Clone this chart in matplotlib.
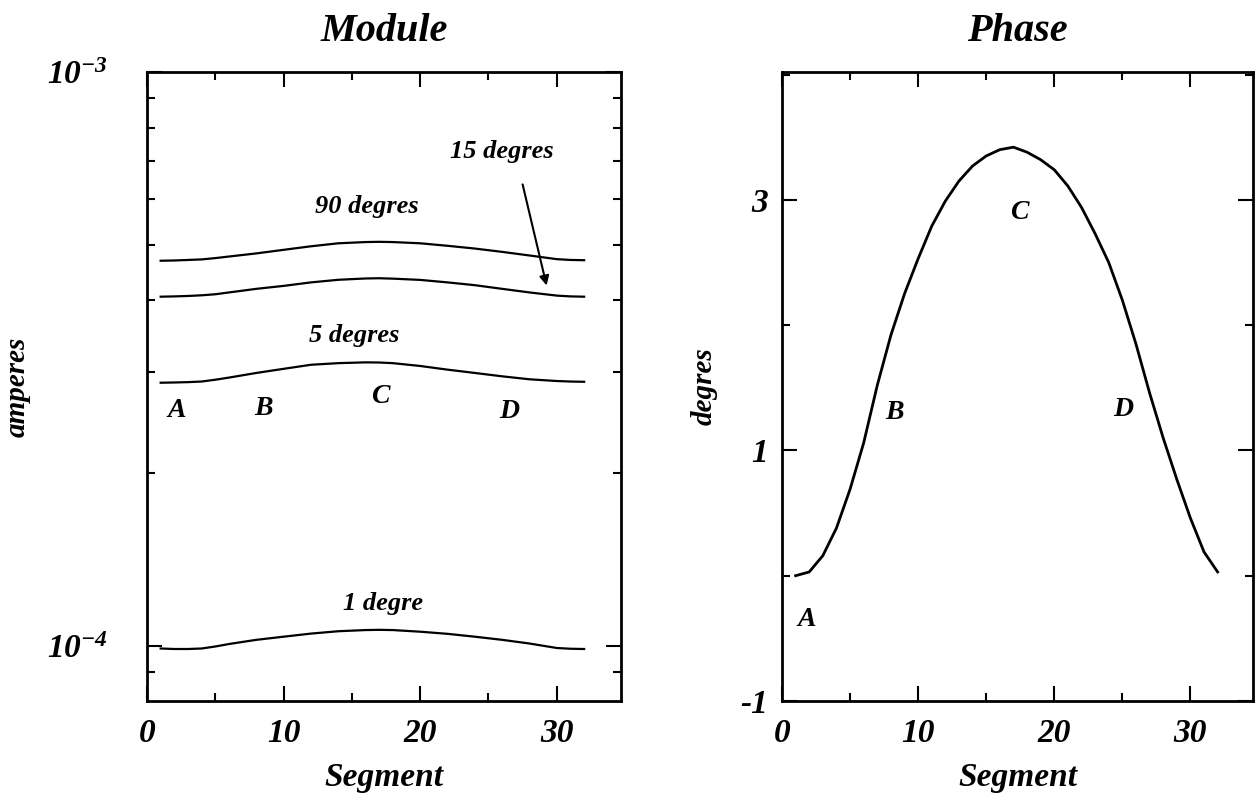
import numpy as np
import matplotlib
matplotlib.use("Agg")
import matplotlib.pyplot as plt
from matplotlib.ticker import FixedLocator, FixedFormatter, NullFormatter, LogLocator

# fonts: bold italic serif everywhere (old Times-like figure)
plt.rcParams['font.family'] = 'Liberation Serif'
plt.rcParams['font.weight'] = 'bold'
plt.rcParams['font.style'] = 'italic'
plt.rcParams['axes.titleweight'] = 'bold'
plt.rcParams['axes.labelweight'] = 'bold'
plt.rcParams['mathtext.fontset'] = 'custom'
plt.rcParams['mathtext.rm'] = 'Liberation Serif:bold:italic'
plt.rcParams['mathtext.it'] = 'Liberation Serif:bold:italic'
plt.rcParams['mathtext.bf'] = 'Liberation Serif:bold:italic'
plt.rcParams['axes.unicode_minus'] = False

# Module (amperes, units of 1e-4) vs segment
seg_mod = [1, 2, 3, 4, 5, 6, 8, 10, 12, 14, 16, 17, 18, 20, 22, 24, 26, 28, 30, 31, 32]
amp_1deg = [0.990, 0.988, 0.988, 0.990, 0.998, 1.008, 1.025, 1.038, 1.051, 1.061, 1.066,
            1.067, 1.066, 1.059, 1.050, 1.038, 1.025, 1.010, 0.992, 0.989, 0.988]
amp_5deg = [2.875, 2.878, 2.882, 2.889, 2.910, 2.935, 2.990, 3.040, 3.090, 3.110, 3.120,
            3.118, 3.110, 3.075, 3.030, 2.990, 2.950, 2.915, 2.895, 2.889, 2.886]
amp_15deg = [4.060, 4.065, 4.072, 4.083, 4.100, 4.130, 4.190, 4.240, 4.300, 4.345, 4.368,
             4.372, 4.365, 4.343, 4.300, 4.252, 4.190, 4.130, 4.078, 4.065, 4.060]
amp_90deg = [4.690, 4.695, 4.705, 4.715, 4.740, 4.770, 4.830, 4.900, 4.970, 5.030, 5.055,
             5.060, 5.055, 5.030, 4.980, 4.925, 4.860, 4.790, 4.720, 4.705, 4.700]

# Phase (degres) vs segment
seg_ph = list(range(1, 33))
phase = [0.00, 0.03, 0.16, 0.38, 0.69, 1.06, 1.52, 1.92, 2.25, 2.53, 2.79, 2.99, 3.15, 3.27,
         3.35, 3.40, 3.42, 3.38, 3.32, 3.24, 3.11, 2.94, 2.73, 2.50, 2.20, 1.85, 1.46, 1.10,
         0.77, 0.46, 0.19, 0.03]

W, H = 1258, 799
fig = plt.figure(figsize=(W / 100, H / 100), dpi=100)

def box(x0, x1, y0, y1):
    return [x0 / W, 1 - y1 / H, (x1 - x0) / W, (y1 - y0) / H]

ax1 = fig.add_axes(box(147, 621, 72, 701))
ax2 = fig.add_axes(box(782, 1253, 72, 701))

for ax in (ax1, ax2):
    for s in ax.spines.values():
        s.set_linewidth(2)
    ax.tick_params(which='both', direction='in', top=True, right=True, width=1.5)
    ax.tick_params(which='major', length=11, labelsize=24)
    ax.tick_params(which='minor', length=6)
    ax.xaxis.set_major_locator(FixedLocator([0, 10, 20, 30]))
    ax.xaxis.set_minor_locator(FixedLocator([5, 15, 25]))
    ax.tick_params(axis='x', pad=12)
    ax.set_xlabel('Segment', fontsize=24)
    ax.xaxis.set_label_coords(0.5, -0.121)
    ax.xaxis.label.set_va('center')

# ---- Module
e4 = 1e-4
ax1.plot(seg_mod, np.array(amp_90deg) * e4, color='black', lw=1.6)
ax1.plot(seg_mod, np.array(amp_15deg) * e4, color='black', lw=1.6)
ax1.plot(seg_mod, np.array(amp_5deg) * e4, color='black', lw=1.6)
ax1.plot(seg_mod, np.array(amp_1deg) * e4, color='black', lw=1.6)
ax1.set_yscale('log')
ax1.set_xlim(0, 34.7)
ax1.set_ylim(8.02e-5, 1e-3)
ax1.yaxis.set_major_locator(FixedLocator([1e-4, 1e-3]))
ax1.yaxis.set_major_formatter(FixedFormatter([r'$10^{-4}$', r'$10^{-3}$']))
ax1.yaxis.set_minor_locator(LogLocator(base=10, subs=np.arange(2, 10)))
ax1.yaxis.set_minor_formatter(NullFormatter())
ax1.tick_params(axis='y', pad=28)
ax1.set_ylabel('amperes', fontsize=21)
ax1.yaxis.set_label_coords(-0.245, 0.5)
ax1.set_title('Module', fontsize=29, pad=22)

ax1.text(16.1, 5.84e-4, '90 degres', fontsize=19, ha='center', va='center')
ax1.text(26.0, 7.26e-4, '15 degres', fontsize=19, ha='center', va='center')
ax1.annotate('', xy=(29.3, 4.20e-4), xytext=(27.45, 6.44e-4),
             arrowprops=dict(arrowstyle='-|>', color='black', lw=1.5, mutation_scale=14))
ax1.text(15.2, 3.48e-4, '5 degres', fontsize=19, ha='center', va='center')
ax1.text(17.3, 1.187e-4, '1 degre', fontsize=19, ha='center', va='center')
for lab, xx, yy in [('A', 2.2, 2.57e-4), ('B', 8.5, 2.59e-4), ('C', 17.1, 2.72e-4), ('D', 26.5, 2.56e-4)]:
    ax1.text(xx, yy, lab, fontsize=20, ha='center', va='center')

# ---- Phase
ax2.plot(seg_ph, phase, color='black', lw=2)
ax2.set_xlim(0, 34.6)
ax2.set_ylim(-1, 4.02)
ax2.yaxis.set_major_locator(FixedLocator([-1, 1, 3]))
ax2.yaxis.set_minor_locator(FixedLocator([0, 2, 4]))
ax2.tick_params(axis='y', pad=10)
ax2.set_ylabel('degres', fontsize=21)
ax2.yaxis.set_label_coords(-0.136, 0.5)
ax2.set_title('Phase', fontsize=29, pad=22)

for lab, xx, yy in [('A', 1.8, -0.35), ('B', 8.3, 1.30), ('C', 17.4, 2.90), ('D', 25.1, 1.33)]:
    ax2.text(xx, yy, lab, fontsize=20, ha='center', va='center')

fig.savefig('out.png', dpi=100)
